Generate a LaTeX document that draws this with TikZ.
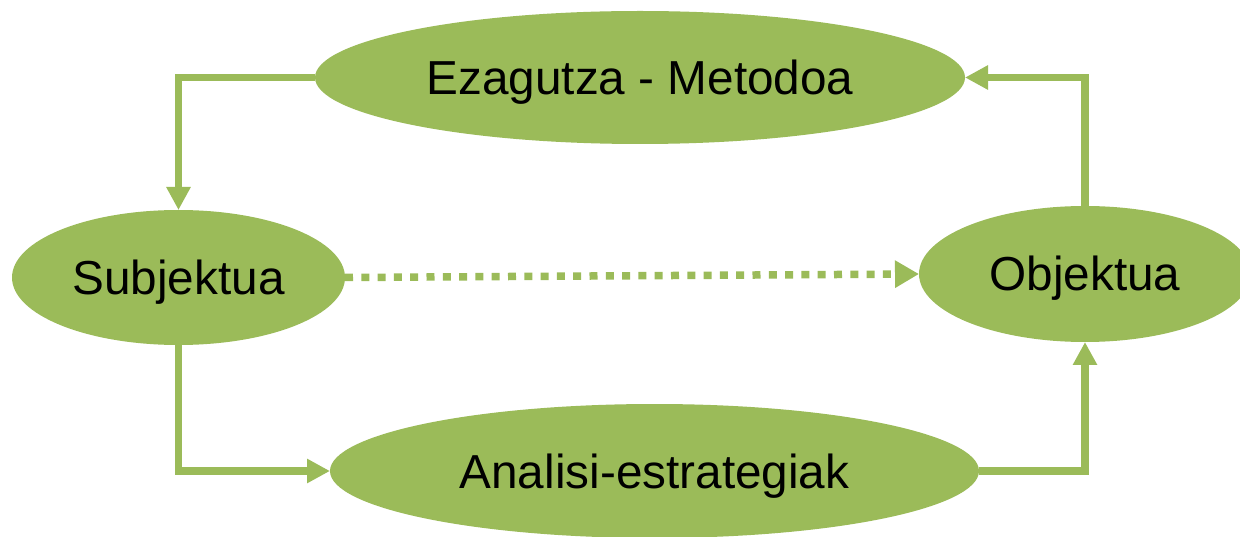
\documentclass[tikz,border=0pt]{standalone}
\usepackage{fontspec}
\setmainfont{Liberation Sans}
\usetikzlibrary{shapes.geometric,arrows.meta}
\definecolor{olive}{HTML}{9BBB59}
\begin{document}
\begin{tikzpicture}[x=1pt,y=-1pt,
  blob/.style={ellipse,fill=olive,draw=none,inner sep=0pt,outer sep=0pt,
    font=\fontsize{47.7}{57}\selectfont,text=black,text height=34pt,text depth=0pt},
  link/.style={draw=olive,line width=7.5pt,line join=miter,
    -{Triangle[width=23pt,length=23pt]}},
  dots/.style={draw=olive,line width=7.5pt,dash pattern=on 8pt off 8.3pt,
    -{Triangle[width=26pt,length=24pt]}}]
\useasboundingbox (0,0) rectangle (1240,537);
\node[blob,minimum width=650pt,minimum height=133pt] (T) at (640,77.5) {Ezagutza - Metodoa};
\node[blob,minimum width=333pt,minimum height=135pt] (L) at (178.5,277.5) {Subjektua};
\node[blob,minimum width=332pt,minimum height=136pt] (R) at (1085,274) {Objektua};
\node[blob,minimum width=649pt,minimum height=134pt] (B) at (654.5,471) {Analisi-estrategiak};
\draw[link] (T.west) -| (L.north);
\draw[link] (R.north) |- (T.east);
\draw[link] (L.south) |- (B.west);
\draw[link] (B.east) -| (R.south);
\draw[dots] (L.east) -- (R.west);
\end{tikzpicture}
\end{document}
